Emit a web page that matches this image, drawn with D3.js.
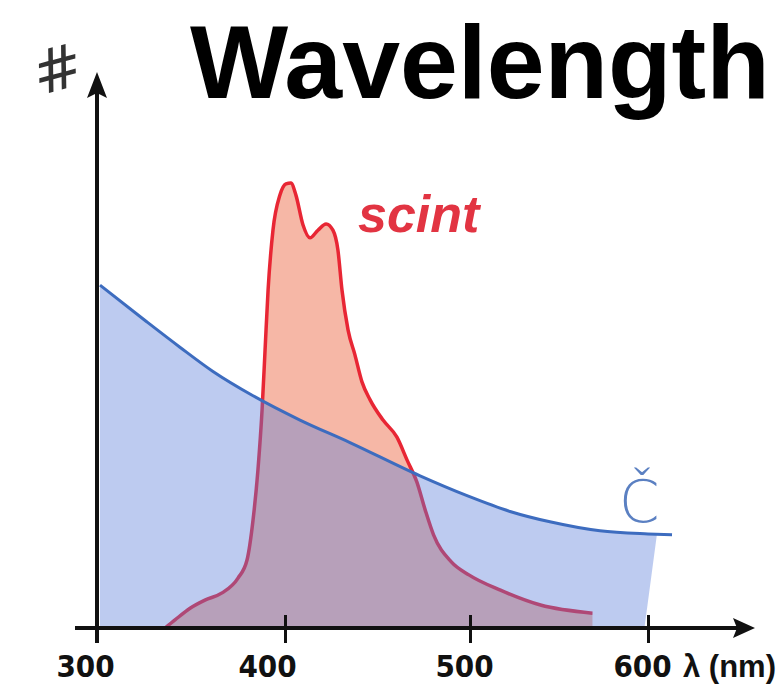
<!DOCTYPE html>
<html>
<head>
<meta charset="utf-8">
<script src="https://cdn.jsdelivr.net/npm/d3@7/dist/d3.min.js"></script>
<style>
  body { margin: 0; background: #fff; }
</style>
</head>
<body>
<script>
// wavelength (nm) and relative intensity
var cherenkovX = [301.6, 326.6, 344.1, 361.7, 383.0, 408.1, 435.1, 473.0, 498.4, 522.5, 544.9, 573.0, 600.0, 613.5];
var cherenkovY = [76.2, 68.0, 62.4, 57.0, 51.6, 46.2, 41.2, 33.8, 29.4, 25.9, 23.6, 21.6, 20.9, 20.7];
// the shaded part stops a little short of the line and leans left
var cherenkovFillTop = [605, 20.8];
var cherenkovFillBottom = [598, 0];

var scintX = [336.2, 341.5, 349.5, 357.4, 366.5, 375.0, 379.8, 383.0, 385.6, 387.8, 389.4, 391.0, 393.6, 397.3, 400.5, 403.2,
              405.9, 409.7, 413.5, 417.8, 422.2, 425.9, 428.6, 430.8, 434.1, 437.8, 441.6, 446.0, 453.0, 460.5, 466.0,
              471.3, 475.8, 480.3, 489.9, 499.4, 517.1, 539.6, 568.8];
var scintY = [0, 1.8, 4.4, 6.2, 7.8, 11.1, 15.1, 24, 35.1, 48.4, 61.8, 75.1, 88.4, 96.2, 98.7, 98.9,
              96.2, 89.6, 86.7, 88.4, 89.8, 88.4, 84, 75.1, 66.2, 60.7, 54.7, 50.7, 46.2, 42.4, 37.3,
              32.4, 26.2, 20.7, 14.7, 11.8, 8.4, 5.1, 3.3];

var xTicks = [300, 400, 500, 600];
var title = 'Wavelength';

var w = 779;
var h = 686;
var originY = 628;

var svg = d3.select('body')
            .append('svg')
            .attr('width', w)
            .attr('height', h);

// hand drawn ticks are not evenly spaced, so the scale is piecewise
var x = d3.scaleLinear()
  .domain([300, 400, 500, 600])
  .range([97, 285, 470, 648]);

var y = d3.scaleLinear()
  .domain([0, 100])
  .range([originY, 178]);

var cherenkov = cherenkovX.map((d, i) => [d, cherenkovY[i]]);
var scint = scintX.map((d, i) => [d, scintY[i]]);

var line = d3.line()
  .x(d => x(d[0]))
  .y(d => y(d[1]))
  .curve(d3.curveMonotoneX);

var area = d3.area()
  .x(d => x(d[0]))
  .y0(y(0))
  .y1(d => y(d[1]))
  .curve(d3.curveMonotoneX);

// scintillation: salmon fill + red outline
svg.append('path')
  .attr('d', area(scint.concat([[568.8, 0]])))
  .attr('fill', '#f6b7a6');

svg.append('path')
  .attr('d', line(scint))
  .attr('fill', 'none')
  .attr('stroke', '#e82634')
  .attr('stroke-width', 3.5)
  .attr('stroke-linejoin', 'round');

// cherenkov fill, see-through so the overlap turns purple
var fillPts = cherenkov.filter(d => d[0] <= 600)
  .concat([cherenkovFillTop, cherenkovFillBottom, [cherenkovX[0], 0]]);

svg.append('path')
  .attr('d', d3.line().x(d => x(d[0])).y(d => y(d[1])).curve(d3.curveMonotoneX)(fillPts.slice(0, -3))
        + d3.line().x(d => x(d[0])).y(d => y(d[1]))(fillPts.slice(-3)).replace('M', 'L') + 'Z')
  .attr('fill', 'rgb(90,126,218)')
  .attr('fill-opacity', 0.4);

svg.append('path')
  .attr('d', line(cherenkov))
  .attr('fill', 'none')
  .attr('stroke', '#3d6cbf')
  .attr('stroke-width', 3);

// x axis
var xAxis = d3.axisBottom(x)
  .tickValues(xTicks)
  .tickSize(0)
  .tickPadding(0);

var gx = svg.append('g')
  .attr('transform', 'translate(0,' + originY + ')')
  .call(xAxis);

gx.select('.domain').remove();
gx.selectAll('.tick line')
  .attr('y1', -13)
  .attr('y2', 15)
  .attr('stroke', '#111')
  .attr('stroke-width', 3);

var labelShift = [-12, -18, -6, -6];
gx.selectAll('.tick text')
  .attr('dy', null)
  .attr('y', 49)
  .attr('dx', (d, i) => labelShift[i])
  .attr('fill', '#111')
  .attr('font-family', '"Liberation Sans Narrow", "DejaVu Sans Condensed", sans-serif')
  .attr('font-weight', 'bold')
  .attr('font-size', 31);

svg.append('line')
  .attr('x1', 75).attr('x2', 738)
  .attr('y1', originY).attr('y2', originY)
  .attr('stroke', '#111')
  .attr('stroke-width', 4);

svg.append('path')
  .attr('d', 'M755,' + originY + 'L733,' + (originY - 10) + 'L737,' + originY + 'L733,' + (originY + 10) + 'Z')
  .attr('fill', '#111');

// y axis
svg.append('line')
  .attr('x1', x(300)).attr('x2', x(300))
  .attr('y1', originY + 15).attr('y2', 92)
  .attr('stroke', '#111')
  .attr('stroke-width', 4);

svg.append('path')
  .attr('d', 'M' + x(300) + ',72L' + (x(300) - 10) + ',98L' + x(300) + ',93L' + (x(300) + 10) + ',98Z')
  .attr('fill', '#111');

// text
svg.append('text')
  .text('#')
  .attr('x', 57)
  .attr('y', 90)
  .attr('text-anchor', 'middle')
  .attr('transform', 'rotate(-15,57,68)')
  .attr('font-family', '"DejaVu Sans", sans-serif')
  .attr('font-style', 'italic')
  .attr('font-size', 60)
  .attr('fill', '#333');

svg.append('text')
  .text('λ (nm)')
  .attr('x', 683)
  .attr('y', originY + 49)
  .attr('font-family', '"Liberation Sans Narrow", sans-serif')
  .attr('font-weight', 'bold')
  .attr('font-size', 31)
  .attr('fill', '#111');

svg.append('text')
  .text('scint')
  .attr('x', 358)
  .attr('y', 232)
  .attr('font-family', '"Liberation Sans", sans-serif')
  .attr('font-style', 'italic')
  .attr('font-weight', 'bold')
  .attr('font-size', 52)
  .attr('fill', '#e23442');

svg.append('text')
  .text('Č')
  .attr('x', 619)
  .attr('y', 522)
  .attr('font-family', '"DejaVu Sans", sans-serif')
  .attr('font-weight', 200)
  .attr('font-size', 58)
  .attr('fill', '#5b80c2');

svg.append('text')
  .text(title)
  .attr('x', 190)
  .attr('y', 98)
  .attr('font-family', '"Liberation Sans", Arial, sans-serif')
  .attr('font-weight', 'bold')
  .attr('font-size', 104)
  .attr('fill', '#000');
</script>
</body>
</html>
